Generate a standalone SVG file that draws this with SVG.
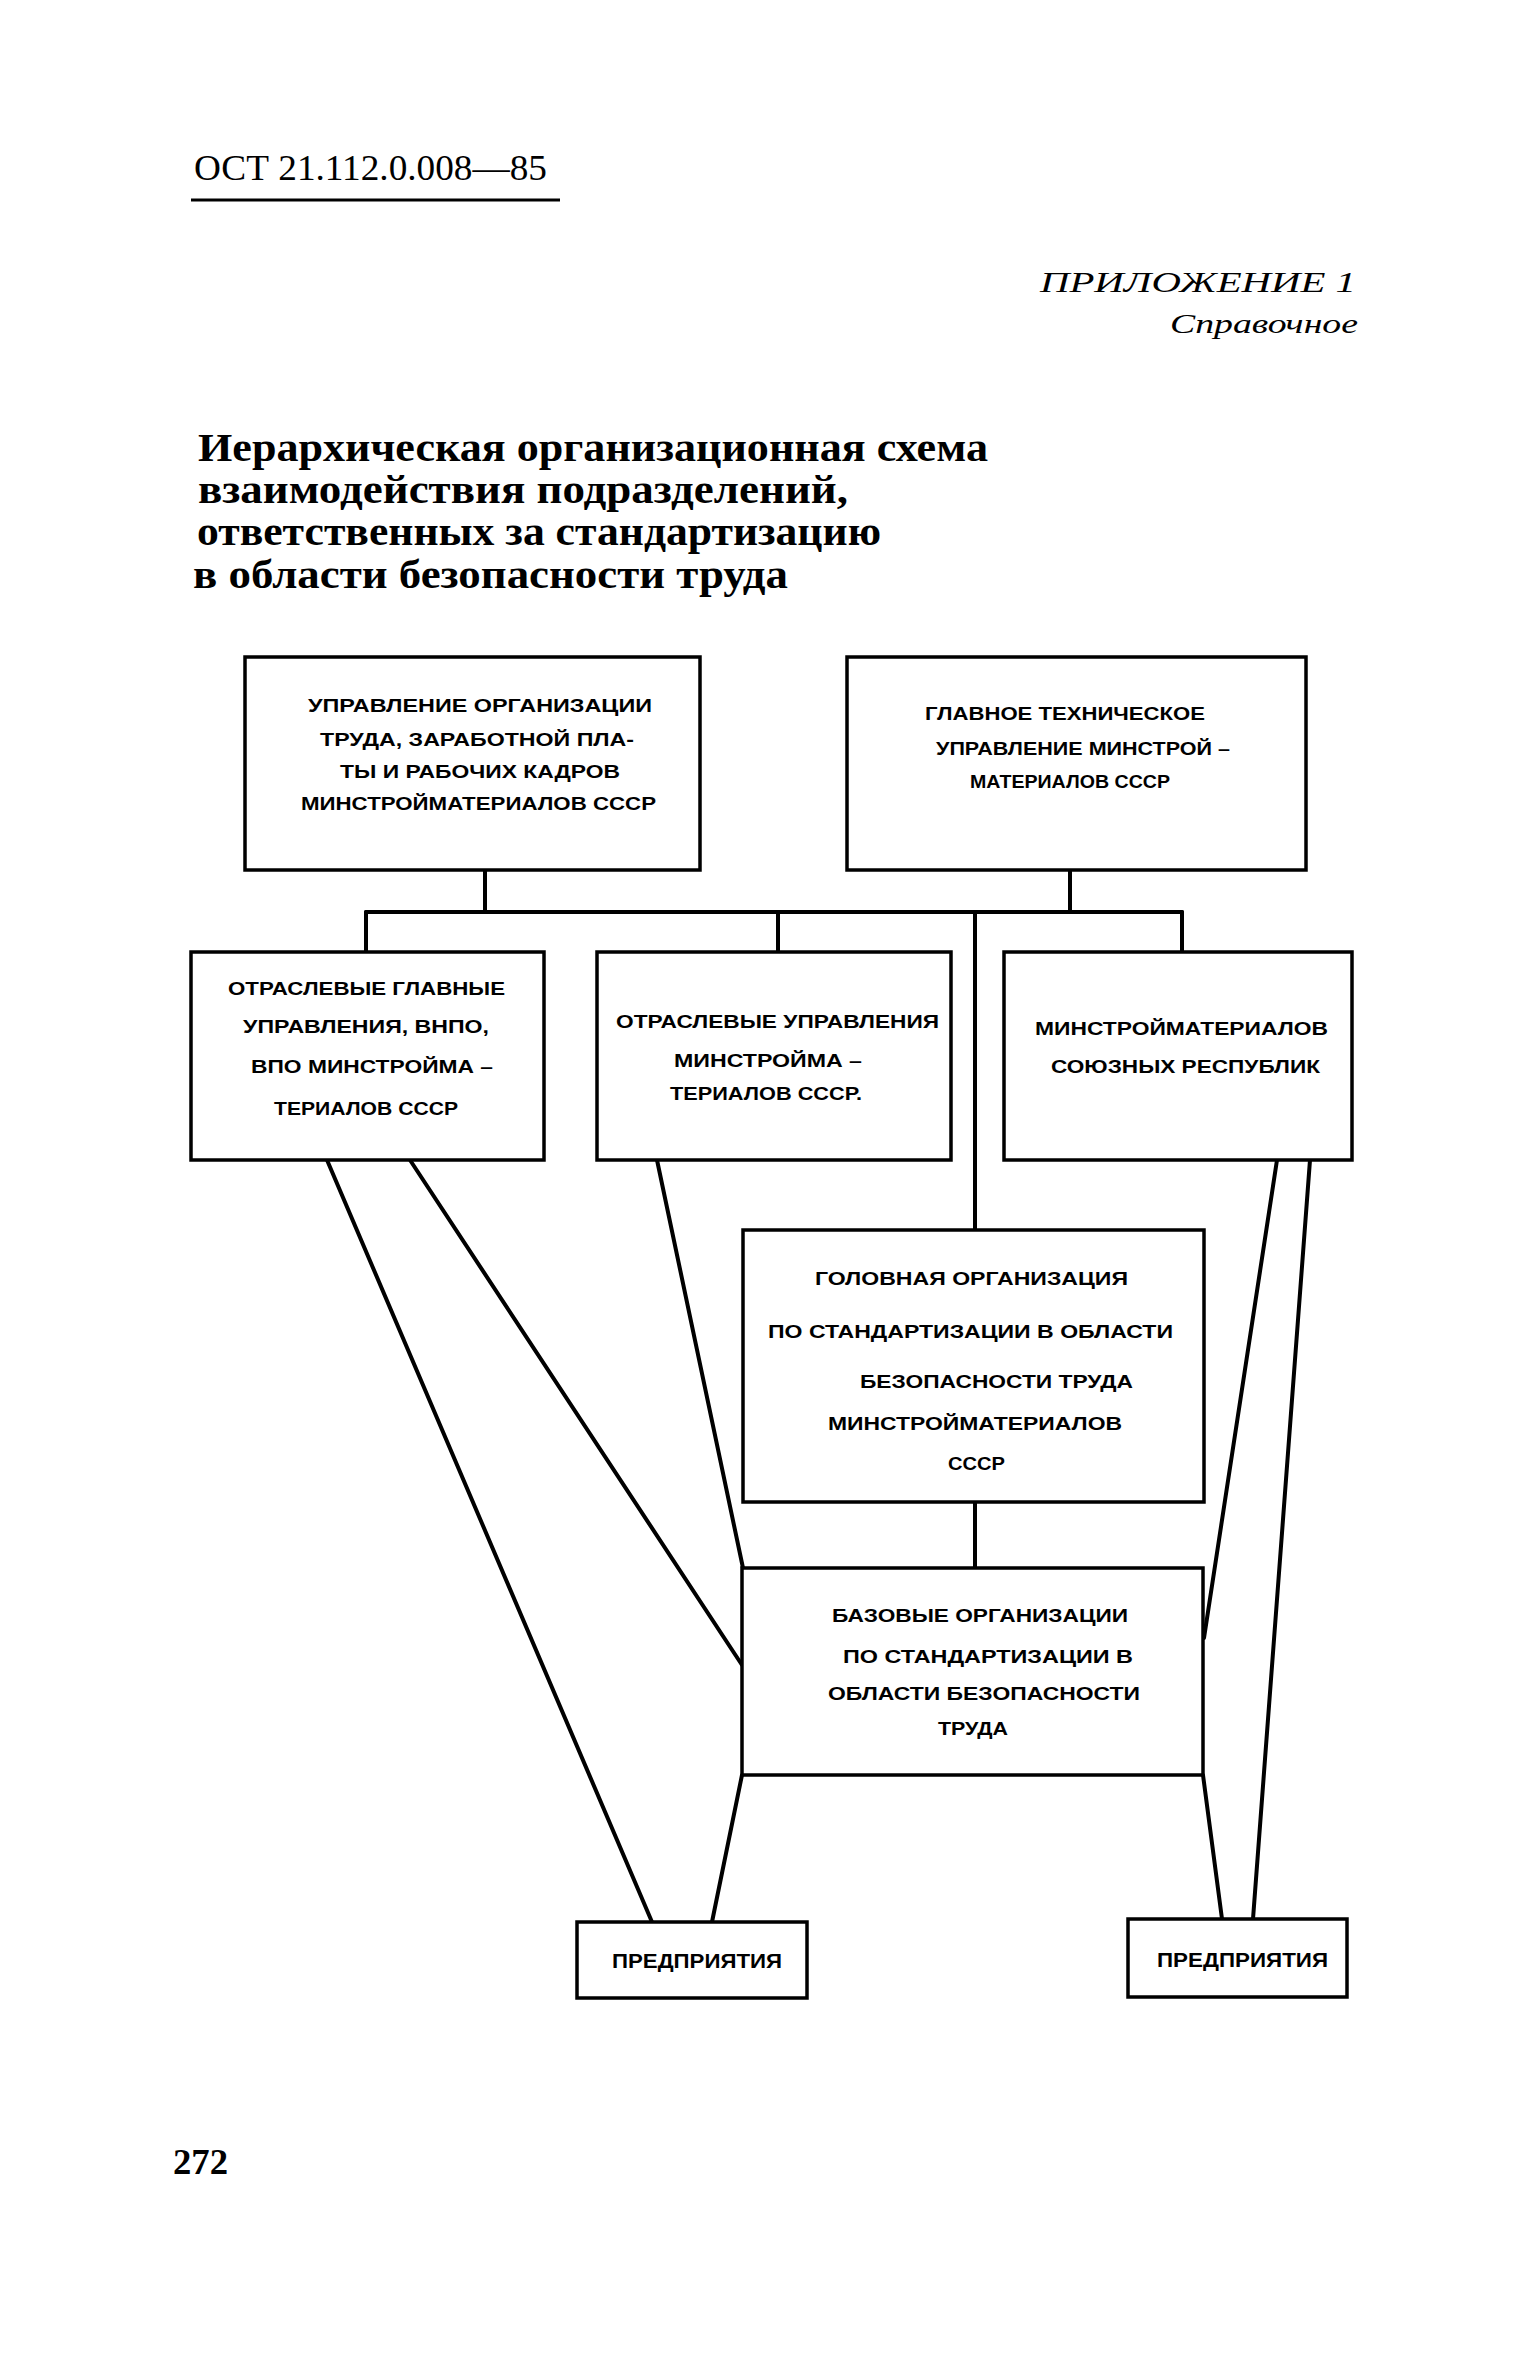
<svg xmlns="http://www.w3.org/2000/svg" width="1535" height="2363" viewBox="0 0 1535 2363">
<style>
.box{fill:#fff;stroke:#000;stroke-width:3.5}
.ln{stroke:#000;stroke-width:4;fill:none;stroke-linecap:round}
.t{font-family:"Liberation Sans",Arial,sans-serif;font-weight:bold;font-size:18px;fill:#000}
.tp{font-family:"Liberation Sans",Arial,sans-serif;font-weight:bold;font-size:20px;fill:#000}
.hd{font-family:"Liberation Serif","Times New Roman",serif;fill:#000}
.ti{font-family:"Liberation Serif","Times New Roman",serif;font-weight:bold;font-size:39px;fill:#000}
</style>
<rect width="1535" height="2363" fill="#fff"/>
<g id="header">
<text class="hd" x="194" y="180" font-size="36" textLength="353" lengthAdjust="spacingAndGlyphs">ОСТ 21.112.0.008—85</text>
<line x1="191" y1="200" x2="560" y2="200" stroke="#000" stroke-width="3"/>
<text class="hd" x="1040" y="292" font-size="29" font-style="italic" textLength="316" lengthAdjust="spacingAndGlyphs">ПРИЛОЖЕНИЕ 1</text>
<text class="hd" x="1170" y="333" font-size="27" font-style="italic" textLength="188" lengthAdjust="spacingAndGlyphs">Справочное</text>
</g>
<g id="title">
<text class="ti" x="198" y="461" textLength="790" lengthAdjust="spacingAndGlyphs">Иерархическая организационная схема</text>
<text class="ti" x="198" y="503" textLength="650" lengthAdjust="spacingAndGlyphs">взаимодействия подразделений,</text>
<text class="ti" x="197" y="545" textLength="684" lengthAdjust="spacingAndGlyphs">ответственных за стандартизацию</text>
<text class="ti" x="193" y="588" textLength="595" lengthAdjust="spacingAndGlyphs">в области безопасности труда</text>
</g>
<g id="connectors">
<line class="ln" x1="485" y1="870" x2="485" y2="912"/>
<line class="ln" x1="1070" y1="870" x2="1070" y2="912"/>
<line class="ln" x1="366" y1="912" x2="1182" y2="912"/>
<line class="ln" x1="366" y1="912" x2="366" y2="952"/>
<line class="ln" x1="778" y1="912" x2="778" y2="952"/>
<line class="ln" x1="1182" y1="912" x2="1182" y2="952"/>
<line class="ln" x1="975" y1="912" x2="975" y2="1230"/>
<line class="ln" x1="975" y1="1502" x2="975" y2="1568"/>
<line class="ln" x1="327" y1="1160" x2="652" y2="1922"/>
<line class="ln" x1="410" y1="1160" x2="742" y2="1665"/>
<line class="ln" x1="657" y1="1160" x2="743" y2="1568"/>
<line class="ln" x1="742" y1="1775" x2="712" y2="1922"/>
<line class="ln" x1="1277" y1="1160" x2="1204" y2="1638"/>
<line class="ln" x1="1310" y1="1160" x2="1253" y2="1919"/>
<line class="ln" x1="1203" y1="1775" x2="1222" y2="1919"/>
</g>
<g id="nodeA">
<rect class="box" x="245" y="657" width="455" height="213"/>
<text class="t" x="308" y="712" textLength="344" lengthAdjust="spacingAndGlyphs">УПРАВЛЕНИЕ ОРГАНИЗАЦИИ</text>
<text class="t" x="320" y="746" textLength="314" lengthAdjust="spacingAndGlyphs">ТРУДА, ЗАРАБОТНОЙ ПЛА-</text>
<text class="t" x="340" y="778" textLength="280" lengthAdjust="spacingAndGlyphs">ТЫ И РАБОЧИХ КАДРОВ</text>
<text class="t" x="301" y="810" textLength="355" lengthAdjust="spacingAndGlyphs">МИНСТРОЙМАТЕРИАЛОВ СССР</text>
</g>
<g id="nodeB">
<rect class="box" x="847" y="657" width="459" height="213"/>
<text class="t" x="925" y="720" textLength="280" lengthAdjust="spacingAndGlyphs">ГЛАВНОЕ ТЕХНИЧЕСКОЕ</text>
<text class="t" x="936" y="755" textLength="294" lengthAdjust="spacingAndGlyphs">УПРАВЛЕНИЕ МИНСТРОЙ –</text>
<text class="t" x="970" y="788" textLength="200" lengthAdjust="spacingAndGlyphs">МАТЕРИАЛОВ СССР</text>
</g>
<g id="nodeC">
<rect class="box" x="191" y="952" width="353" height="208"/>
<text class="t" x="228" y="995" textLength="277" lengthAdjust="spacingAndGlyphs">ОТРАСЛЕВЫЕ ГЛАВНЫЕ</text>
<text class="t" x="243" y="1033" textLength="246" lengthAdjust="spacingAndGlyphs">УПРАВЛЕНИЯ, ВНПО,</text>
<text class="t" x="251" y="1073" textLength="242" lengthAdjust="spacingAndGlyphs">ВПО МИНСТРОЙМА –</text>
<text class="t" x="274" y="1115" textLength="184" lengthAdjust="spacingAndGlyphs">ТЕРИАЛОВ СССР</text>
</g>
<g id="nodeD">
<rect class="box" x="597" y="952" width="354" height="208"/>
<text class="t" x="616" y="1028" textLength="323" lengthAdjust="spacingAndGlyphs">ОТРАСЛЕВЫЕ УПРАВЛЕНИЯ</text>
<text class="t" x="674" y="1067" textLength="188" lengthAdjust="spacingAndGlyphs">МИНСТРОЙМА –</text>
<text class="t" x="670" y="1100" textLength="192" lengthAdjust="spacingAndGlyphs">ТЕРИАЛОВ СССР.</text>
</g>
<g id="nodeE">
<rect class="box" x="1004" y="952" width="348" height="208"/>
<text class="t" x="1035" y="1035" textLength="293" lengthAdjust="spacingAndGlyphs">МИНСТРОЙМАТЕРИАЛОВ</text>
<text class="t" x="1051" y="1073" textLength="269" lengthAdjust="spacingAndGlyphs">СОЮЗНЫХ РЕСПУБЛИК</text>
</g>
<g id="nodeF">
<rect class="box" x="743" y="1230" width="461" height="272"/>
<text class="t" x="815" y="1285" textLength="313" lengthAdjust="spacingAndGlyphs">ГОЛОВНАЯ ОРГАНИЗАЦИЯ</text>
<text class="t" x="768" y="1338" textLength="405" lengthAdjust="spacingAndGlyphs">ПО СТАНДАРТИЗАЦИИ В ОБЛАСТИ</text>
<text class="t" x="860" y="1388" textLength="273" lengthAdjust="spacingAndGlyphs">БЕЗОПАСНОСТИ ТРУДА</text>
<text class="t" x="828" y="1430" textLength="294" lengthAdjust="spacingAndGlyphs">МИНСТРОЙМАТЕРИАЛОВ</text>
<text class="t" x="948" y="1470" textLength="57" lengthAdjust="spacingAndGlyphs">СССР</text>
</g>
<g id="nodeG">
<rect class="box" x="742" y="1568" width="461" height="207"/>
<text class="t" x="832" y="1622" textLength="296" lengthAdjust="spacingAndGlyphs">БАЗОВЫЕ ОРГАНИЗАЦИИ</text>
<text class="t" x="843" y="1663" textLength="290" lengthAdjust="spacingAndGlyphs">ПО СТАНДАРТИЗАЦИИ  В</text>
<text class="t" x="828" y="1700" textLength="312" lengthAdjust="spacingAndGlyphs">ОБЛАСТИ БЕЗОПАСНОСТИ</text>
<text class="t" x="938" y="1735" textLength="70" lengthAdjust="spacingAndGlyphs">ТРУДА</text>
</g>
<g id="nodeH">
<rect class="box" x="577" y="1922" width="230" height="76"/>
<text class="tp" x="612" y="1968" textLength="170" lengthAdjust="spacingAndGlyphs">ПРЕДПРИЯТИЯ</text>
</g>
<g id="nodeI">
<rect class="box" x="1128" y="1919" width="219" height="78"/>
<text class="tp" x="1157" y="1967" textLength="171" lengthAdjust="spacingAndGlyphs">ПРЕДПРИЯТИЯ</text>
</g>
<g id="pagenum">
<text class="hd" x="173" y="2174" font-size="36" font-weight="bold" textLength="55" lengthAdjust="spacingAndGlyphs">272</text>
</g>
</svg>
